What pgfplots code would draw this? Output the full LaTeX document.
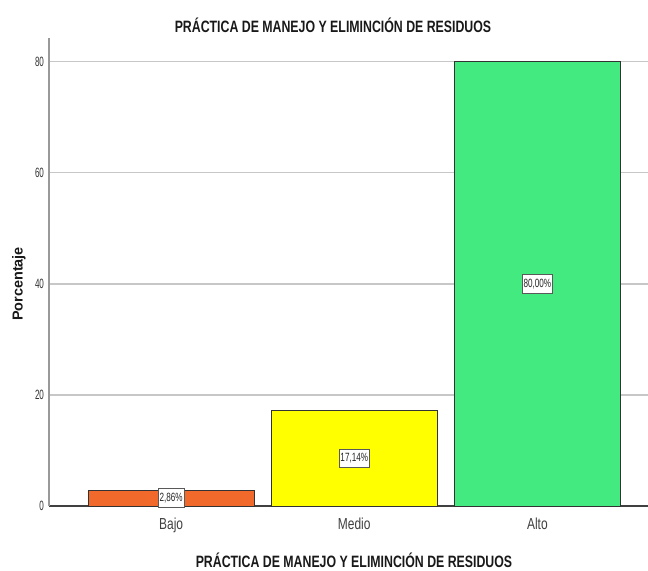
\documentclass[border=0pt]{standalone}
\usepackage{pgfplots}
\pgfplotsset{compat=1.18}
\usepackage{fontspec}
\setmainfont{Liberation Sans}[FakeStretch=0.75]
\newfontfamily\tickfont{Liberation Sans}[FakeStretch=0.6]
\newfontfamily\lblfont{Liberation Sans}[FakeStretch=0.68]
\newfontfamily\plainfont{Liberation Sans}
\definecolor{cOrange}{HTML}{F26A2B}
\definecolor{cYellow}{HTML}{FFFF00}
\definecolor{cGreen}{HTML}{42EA80}
\begin{document}
\begin{tikzpicture}[x=1bp,y=1bp]
\useasboundingbox (0,0) rectangle (648,571);
\begin{axis}[
  at={(49bp,65bp)}, anchor=south west, scale only axis,
  width=599bp, height=468bp,
  xmin=-0.667, xmax=2.604, ymin=0, ymax=84.3,
  axis x line=bottom, axis y line=left, axis line style={-},
  x axis line style={draw=black!75, line width=1.2bp},
  y axis line style={draw=black!40, line width=1.2bp},
  xtick={0,1,2}, xticklabels={Bajo,Medio,Alto},
  ytick={0,20,40,60,80},
  major tick length=0pt,
  ymajorgrids, grid style={black!22, line width=1.2bp},
  /pgf/number format/assume math mode=true,
  yticklabel style={font=\tickfont\fontsize{13.5}{14}\selectfont, text=black!80, xshift=-1.5bp},
  xticklabel style={font=\fontsize{16}{18}\selectfont, text=black!75, yshift=-8.5bp},
  clip=false,
]
\addplot[ybar, bar shift=0pt, bar width=0.907, fill=cOrange, draw=black!80, line width=0.8bp] coordinates {(0,2.86)};
\addplot[ybar, bar shift=0pt, bar width=0.907, fill=cYellow, draw=black!80, line width=0.8bp] coordinates {(1,17.14)};
\addplot[ybar, bar shift=0pt, bar width=0.907, fill=cGreen, draw=black!80, line width=0.8bp] coordinates {(2,80.00)};
\addplot[only marks, mark=none, nodes near coords, point meta=explicit symbolic,
  nodes near coords style={anchor=center, draw=black!65, fill=white, line width=0.8bp,
    font=\lblfont\fontsize{12}{13}\selectfont, text=black!85, inner xsep=1.5bp, inner ysep=4.5bp}]
  coordinates {(0,1.43) [2,86\%] (1,8.57) [17,14\%] (2,40) [80,00\%]};
\end{axis}
\node[anchor=base, font=\bfseries\fontsize{16.5}{18}\selectfont, text=black!90] at (333,538) {PRÁCTICA DE MANEJO Y ELIMINCIÓN DE RESIDUOS};
\node[anchor=base, font=\bfseries\fontsize{16.5}{18}\selectfont, text=black!90] at (354,3) {PRÁCTICA DE MANEJO Y ELIMINCIÓN DE RESIDUOS};
\node[rotate=90, font=\plainfont\bfseries\fontsize{14.5}{16}\selectfont, text=black!90] at (19,287) {Porcentaje};
\end{tikzpicture}
\end{document}
